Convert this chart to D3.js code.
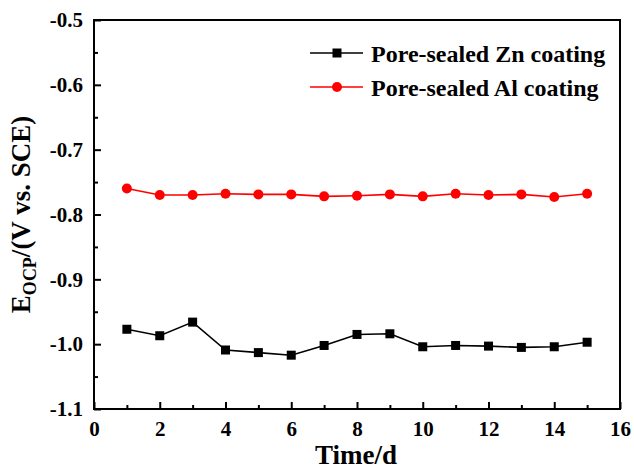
<!DOCTYPE html>
<html>
<head>
<meta charset="utf-8">
<script src="https://cdn.jsdelivr.net/npm/d3@7"></script>
<style>
  body { margin: 0; background: #fff; }
</style>
</head>
<body>
<div id="chart"></div>
<script>
// days of immersion
let days = [1, 2, 3, 4, 5, 6, 7, 8, 9, 10, 11, 12, 13, 14, 15];
// open circuit potential, V vs. SCE
let znValues = [-0.977, -0.987, -0.966, -1.009, -1.013, -1.017, -1.002, -0.985, -0.984,
  -1.004, -1.002, -1.003, -1.005, -1.004, -0.997];
let alValues = [-0.760, -0.770, -0.770, -0.768, -0.769, -0.769, -0.772, -0.771, -0.769,
  -0.772, -0.768, -0.770, -0.769, -0.773, -0.768];
let xTicks = [0, 2, 4, 6, 8, 10, 12, 14, 16];
let yTicks = [-1.1, -1.0, -0.9, -0.8, -0.7, -0.6, -0.5];
let seriesNames = ['Pore-sealed Zn coating', 'Pore-sealed Al coating'];

let width = 634;
let height = 469;
let margin = { top: 20, right: 14, bottom: 60, left: 94 };
let fontFamily = "'Liberation Serif', 'Times New Roman', Times, serif";

let svg = d3.select('#chart')
  .append('svg')
  .attr('width', width)
  .attr('height', height)
  .attr('font-family', fontFamily)
  .attr('font-weight', 'bold');

let x = d3.scaleLinear().domain([0, 16]).range([margin.left, width - margin.right]);
let y = d3.scaleLinear().domain([-1.1, -0.5]).range([height - margin.bottom, margin.top]);

let series = [
  { name: seriesNames[0], values: znValues, color: '#000000', marker: 'square' },
  { name: seriesNames[1], values: alValues, color: '#ff0000', marker: 'circle' }
];

// styles tick labels the same way on both axes
let styleTicks = g => {
  g.select('.domain').remove();
  g.selectAll('line').attr('stroke-width', 2);
  g.attr('font-family', fontFamily).attr('font-size', 21);
  g.selectAll('text').attr('fill', '#000').attr('font-weight', 'bold');
};

// minor ticks first so the major ones sit on top
let minorX = d3.range(1, 16, 2);
let minorY = d3.range(-1.05, -0.5, 0.1);

svg.append('g')
  .attr('transform', `translate(0 ${y(-1.1)})`)
  .call(d3.axisBottom(x).tickValues(minorX).tickSize(-4).tickFormat(''))
  .call(styleTicks);

svg.append('g')
  .attr('transform', `translate(${x(0)} 0)`)
  .call(d3.axisLeft(y).tickValues(minorY).tickSize(-4).tickFormat(''))
  .call(styleTicks);

// major ticks with labels
svg.append('g')
  .attr('transform', `translate(0 ${y(-1.1)})`)
  .call(d3.axisBottom(x).tickValues(xTicks).tickSize(-7).tickPadding(12).tickFormat(d3.format('d')))
  .call(styleTicks);

svg.append('g')
  .attr('transform', `translate(${x(0)} 0)`)
  .call(d3.axisLeft(y).tickValues(yTicks).tickSize(-7).tickPadding(11)
    .tickFormat(d => d.toFixed(1)))
  .call(styleTicks);

// frame
svg.append('rect')
  .attr('x', x(0))
  .attr('y', y(-0.5))
  .attr('width', x(16) - x(0))
  .attr('height', y(-1.1) - y(-0.5))
  .attr('fill', 'none')
  .attr('stroke', '#000')
  .attr('stroke-width', 2);

// draws a marker of the given kind centred at (cx, cy)
let drawMarker = (g, kind, cx, cy, color) => {
  if (kind === 'square') {
    g.append('rect')
      .attr('x', cx - 4.5)
      .attr('y', cy - 4.5)
      .attr('width', 9)
      .attr('height', 9)
      .attr('fill', color);
  } else {
    g.append('circle')
      .attr('cx', cx)
      .attr('cy', cy)
      .attr('r', 5)
      .attr('fill', color);
  }
};

let line = d3.line()
  .x(d => x(d[0]))
  .y(d => y(d[1]));

series.forEach(s => {
  let pts = days.map((d, i) => [d, s.values[i]]);
  let g = svg.append('g');
  g.append('path')
    .datum(pts)
    .attr('d', line)
    .attr('fill', 'none')
    .attr('stroke', s.color)
    .attr('stroke-width', 1.6);
  pts.forEach(p => drawMarker(g, s.marker, x(p[0]), y(p[1]), s.color));
});

// legend
let legend = svg.append('g');
series.forEach((s, i) => {
  let ly = 53 + i * 34;
  legend.append('line')
    .attr('x1', 310)
    .attr('x2', 363)
    .attr('y1', ly)
    .attr('y2', ly)
    .attr('stroke', s.color)
    .attr('stroke-width', 1.6);
  drawMarker(legend, s.marker, 337, ly, s.color);
  legend.append('text')
    .attr('x', 371)
    .attr('y', ly + 8.5)
    .attr('font-size', 24)
    .attr('fill', '#000')
    .text(s.name);
});

// axis titles
svg.append('text')
  .attr('x', 356)
  .attr('y', 464)
  .attr('text-anchor', 'middle')
  .attr('font-size', 27)
  .text('Time/d');

let yTitle = svg.append('text')
  .attr('transform', `translate(30 ${(y(-0.5) + y(-1.1)) / 2}) rotate(-90)`)
  .attr('text-anchor', 'middle')
  .attr('font-size', 27);
yTitle.append('tspan').text('E');
yTitle.append('tspan').attr('font-size', 18).attr('dy', 6).text('OCP');
yTitle.append('tspan').attr('dy', -6).text('/(V vs. SCE)');
</script>
</body>
</html>
